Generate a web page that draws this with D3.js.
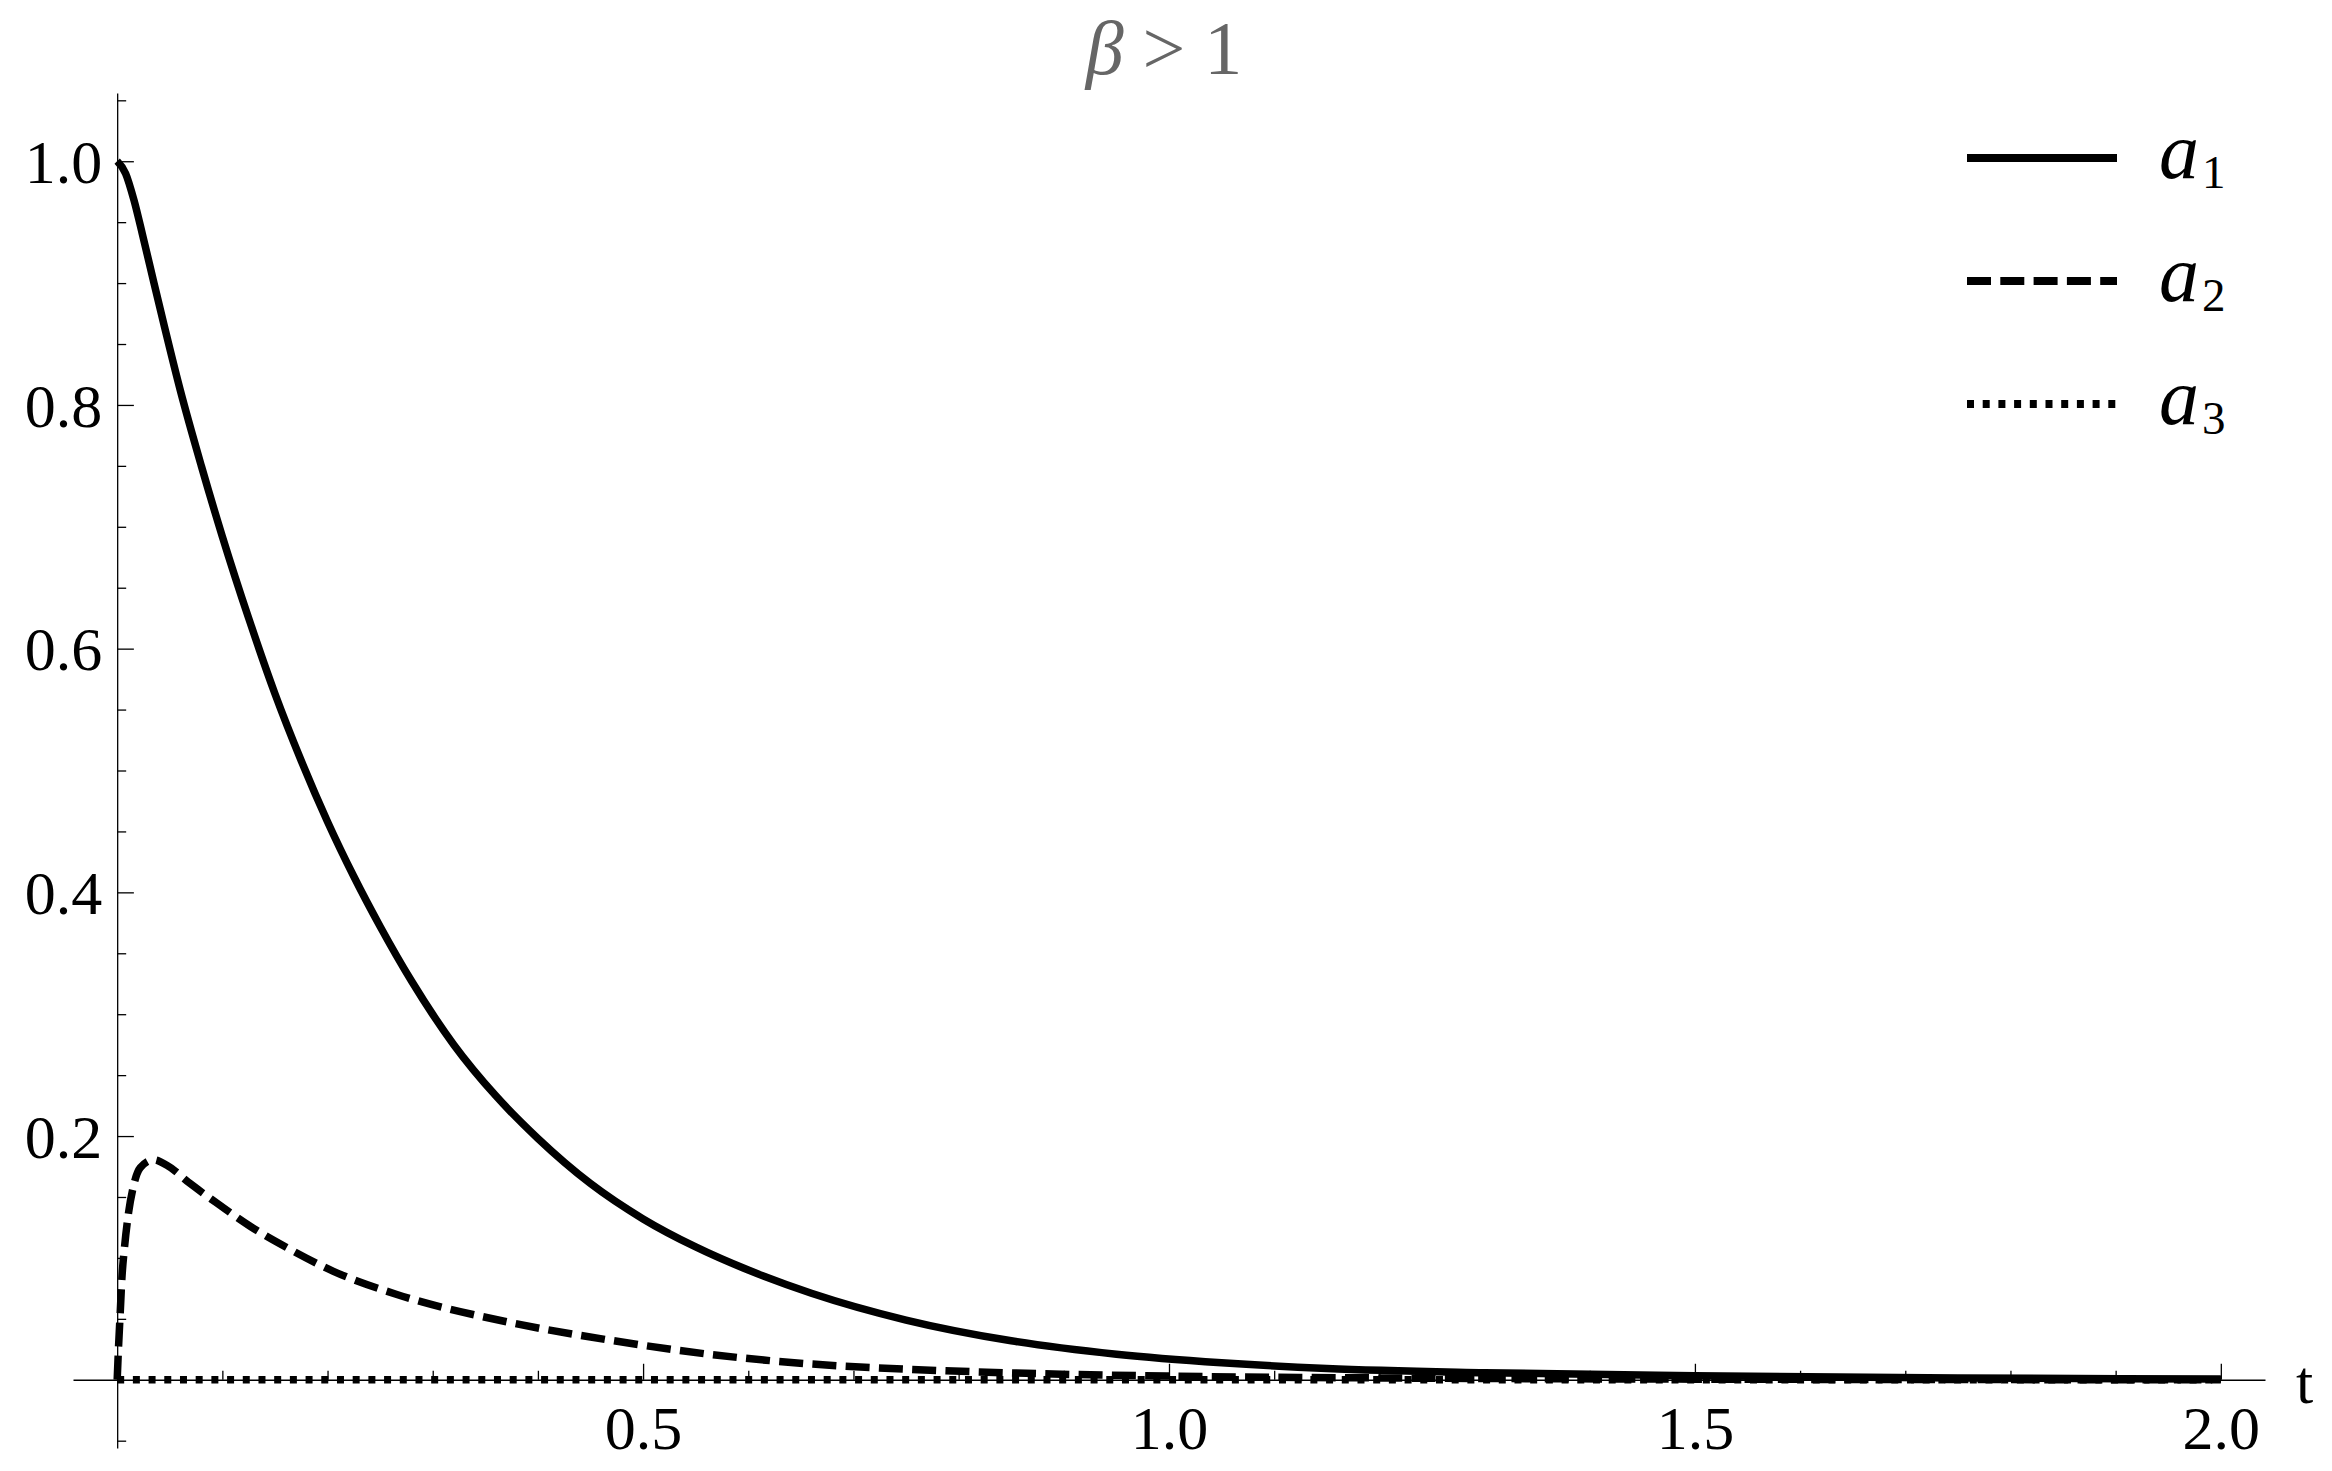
<!DOCTYPE html>
<html>
<head>
<meta charset="utf-8">
<script src="https://cdn.jsdelivr.net/npm/d3@7"></script>
<style>
  body { margin: 0; background: #fff; }
  svg { display: block; }
</style>
</head>
<body>
<svg id="chart" width="2332" height="1471" font-family="Liberation Serif"></svg>
<script>
// values, [t, value]
const a1Data = [
  [0, 1.000], [0.008, 0.990], [0.016, 0.968], [0.024, 0.940], [0.035, 0.900],
  [0.045, 0.864], [0.06, 0.812], [0.08, 0.750], [0.10, 0.692], [0.125, 0.625],
  [0.15, 0.563], [0.175, 0.508], [0.20, 0.458], [0.225, 0.413], [0.25, 0.372],
  [0.28, 0.327], [0.32, 0.275], [0.36, 0.233], [0.40, 0.198], [0.45, 0.161],
  [0.50, 0.132], [0.55, 0.109], [0.60, 0.090], [0.66, 0.071], [0.75, 0.049],
  [0.85, 0.032], [0.95, 0.021], [1.05, 0.014], [1.15, 0.0093], [1.3, 0.0058],
  [1.5, 0.0033], [1.75, 0.0015], [2.0, 0.0007]
];
const a2Data = [
  [0, 0], [0.0013, 0.027], [0.0029, 0.055], [0.0044, 0.082], [0.007, 0.109],
  [0.0108, 0.137], [0.0155, 0.159], [0.0219, 0.174], [0.0345, 0.1805], [0.0472, 0.176],
  [0.0694, 0.161], [0.0947, 0.145], [0.1264, 0.126], [0.1644, 0.107], [0.2056, 0.089],
  [0.2659, 0.070], [0.3679, 0.048], [0.4648, 0.033], [0.5618, 0.021], [0.6587, 0.013],
  [0.7557, 0.0085], [0.877, 0.005], [1.0, 0.003], [1.2, 0.0015], [1.5, 0.0005], [2.0, 0]
];
const a3Data = [[0, 0], [0.5, 0], [1.0, 0], [1.5, 0], [2.0, 0]];

const seriesNames = ['1', '2', '3'];
const xMajor = [0.5, 1.0, 1.5, 2.0];
const xMinor = [0.1, 0.2, 0.3, 0.4, 0.6, 0.7, 0.8, 0.9, 1.1, 1.2, 1.3, 1.4, 1.6, 1.7, 1.8, 1.9];
const yMajor = [0.2, 0.4, 0.6, 0.8, 1.0];
const yMinor = [-0.05, 0.05, 0.1, 0.15, 0.25, 0.3, 0.35, 0.45, 0.5, 0.55, 0.65, 0.7, 0.75, 0.85, 0.9, 0.95, 1.05];

const FONT = 'Liberation Serif';
const svg = d3.select('#chart');

const xScale = d3.scaleLinear().domain([-0.042, 2.042]).range([73, 2265]);
const yScale = d3.scaleLinear().domain([-0.056, 1.056]).range([1448, 93]);

// x axis, ticks pointing up into the plot
svg.append('g')
  .attr('transform', `translate(0,${yScale(0)})`)
  .call(d3.axisBottom(xScale).tickValues(xMinor).tickSizeInner(-9).tickSizeOuter(0).tickFormat(''))
  .call(g => g.selectAll('line,path').attr('stroke', '#000').attr('stroke-width', 1.3));

svg.append('g')
  .attr('transform', `translate(0,${yScale(0)})`)
  .call(d3.axisBottom(xScale).tickValues(xMajor).tickSizeInner(-16).tickSizeOuter(0)
    .tickFormat(d3.format('.1f')))
  .call(g => g.select('.domain').remove())
  .call(g => g.selectAll('line').attr('stroke', '#000').attr('stroke-width', 1.3))
  .call(g => g.selectAll('text').attr('font-size', 62).attr('fill', '#000')
    .attr('font-family', FONT).attr('dy', 0).attr('y', 69));

// y axis, ticks pointing right
svg.append('g')
  .attr('transform', `translate(${xScale(0)},0)`)
  .call(d3.axisLeft(yScale).tickValues(yMinor).tickSizeInner(-9).tickSizeOuter(0).tickFormat(''))
  .call(g => g.selectAll('line,path').attr('stroke', '#000').attr('stroke-width', 1.3));

svg.append('g')
  .attr('transform', `translate(${xScale(0)},0)`)
  .call(d3.axisLeft(yScale).tickValues(yMajor).tickSizeInner(-16.7).tickSizeOuter(0)
    .tickPadding(15).tickFormat(d3.format('.1f')))
  .call(g => g.select('.domain').remove())
  .call(g => g.selectAll('line').attr('stroke', '#000').attr('stroke-width', 1.3))
  .call(g => g.selectAll('text').attr('font-size', 62).attr('fill', '#000')
    .attr('font-family', FONT).attr('dy', '0.34em'));

// axis label
svg.append('text')
  .attr('x', xScale(2.042) + 31)
  .attr('y', yScale(0) + 23)
  .attr('font-size', 62)
  .text('t');

// title
const title = svg.append('text')
  .attr('x', 1164)
  .attr('y', 74)
  .attr('text-anchor', 'middle')
  .attr('font-size', 76)
  .attr('fill', '#666');
title.append('tspan').attr('font-style', 'italic').text('β');
title.append('tspan').text(' > 1');

// curves
const line = d3.line()
  .x(d => xScale(d[0]))
  .y(d => yScale(d[1]))
  .curve(d3.curveMonotoneX);

const styles = [
  { data: a1Data, dash: null },
  { data: a2Data, dash: '24,9.3' },
  { data: a3Data, dash: '7,8.7' }
];

svg.append('g')
  .selectAll('path')
  .data(styles)
  .join('path')
  .attr('d', d => line(d.data))
  .attr('fill', 'none')
  .attr('stroke', '#000')
  .attr('stroke-width', 7.5)
  .attr('stroke-linejoin', 'round')
  .attr('stroke-dasharray', d => d.dash);

// legend
const legend = svg.append('g')
  .selectAll('g')
  .data(styles)
  .join('g')
  .attr('transform', (d, i) => `translate(1967,${158 + i * 123})`);

legend.append('line')
  .attr('x1', 0)
  .attr('x2', 150)
  .attr('stroke', '#000')
  .attr('stroke-width', 8)
  .attr('stroke-dasharray', d => d.dash);

const label = legend.append('text')
  .attr('x', 192)
  .attr('y', 20)
  .attr('font-size', 80);
label.append('tspan').attr('font-style', 'italic').text('a');
label.append('tspan')
  .attr('font-size', 47)
  .attr('dx', 3)
  .attr('dy', 10)
  .text((d, i) => seriesNames[i]);
</script>
</body>
</html>
